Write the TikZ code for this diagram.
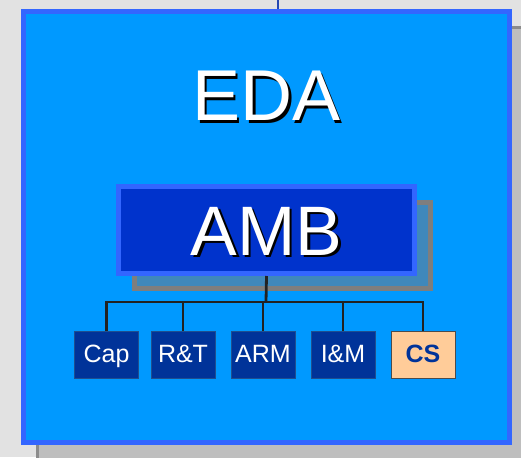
\documentclass[tikz,border=0pt]{standalone}
\usepackage{fontspec}
\setmainfont{Liberation Sans}
\definecolor{slide}{HTML}{E2E2E2}
\definecolor{shade}{HTML}{BEBEBE}
\definecolor{shadeline}{HTML}{8C8C8C}
\definecolor{edafill}{HTML}{0099FF}
\definecolor{edaline}{HTML}{3366FF}
\definecolor{ambfill}{HTML}{0033CC}
\definecolor{ambshade}{HTML}{3F88BB}
\definecolor{unitfill}{HTML}{003399}
\definecolor{unitline}{HTML}{1F4F8F}
\definecolor{csfill}{HTML}{FFCC99}
\definecolor{wire}{HTML}{222222}
\newcommand{\dropshadowtext}[1]{\makebox[0pt][l]{\color{black}\hspace{2.5pt}\raisebox{-2.5pt}{#1}}#1}
\tikzset{
	unitbox/.style={draw=unitline,line width=1pt,fill=unitfill,text=white,minimum width=64pt,minimum height=47pt,inner sep=0pt,text height=18pt,text depth=0pt,font=\fontsize{25}{25}\selectfont},
	csbox/.style={unitbox,fill=csfill,draw=black!70,text=unitfill,font=\fontsize{25}{25}\selectfont\bfseries},
	wireline/.style={draw=wire,line width=2.8pt}
}
\begin{document}
\begin{tikzpicture}[x=1pt,y=-1pt]
	\useasboundingbox (0,0) rectangle (521,457);
	\fill[slide] (0,0) rectangle (521,457);
	\draw[fill=shade,draw=shadeline,line width=3pt] (37,27.5) rectangle (540,480);
	\coordinate (top) at (278,0);
	\node[draw=edaline,fill=edafill,line width=5pt,minimum width=486pt,minimum height=431pt,inner sep=0pt] (eda) at (266.5,227) {};
	\draw[edaline!70!black,line width=2.8pt] (top) -- (top|-eda.north);
	\node[text=white,font=\fontsize{72}{72}\selectfont,text height=52pt,text depth=0pt,inner sep=0pt] (edatitle) at (266.5,95) {\dropshadowtext{EDA}};
	\node[draw=shadeline!90!black,fill=ambshade,line width=5pt,minimum width=296pt,minimum height=86pt,inner sep=0pt] (ambshadow) at (282.5,245.5) {};
	\node[draw=edaline,fill=ambfill,line width=5pt,minimum width=296pt,minimum height=87pt,inner sep=0pt,text=white,font=\fontsize{70}{70}\selectfont,text height=50pt,text depth=0pt] (amb) at (266.5,230) {\dropshadowtext{AMB}};
	\node[unitbox] (cap) at (106.5,355) {\raisebox{2pt}{Cap}};
	\node[unitbox] (rt) at (183,355) {\raisebox{2pt}{R\&T}};
	\node[unitbox] (arm) at (263,355) {\raisebox{2pt}{ARM}};
	\node[unitbox] (im) at (343,355) {\raisebox{2pt}{I\&M}};
	\node[csbox] (cs) at (423,355) {\raisebox{2pt}{CS}};
	\coordinate (bus) at (266,302);
	\draw[wireline] (amb.south) -- (bus);
	\draw[wireline] (cap.north) |- (cs.north|-bus) -- (cs.north);
	\foreach \unit in {rt,arm,im}
		\draw[wireline] (\unit.north) -- (\unit.north|-bus);
\end{tikzpicture}
\end{document}
